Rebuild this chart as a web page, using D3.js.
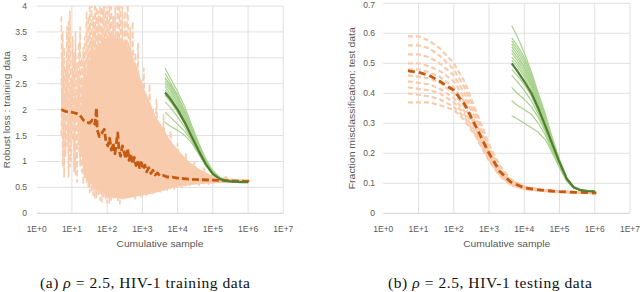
<!DOCTYPE html>
<html>
<head>
<meta charset="utf-8">
<script src="https://cdn.jsdelivr.net/npm/d3@7/dist/d3.min.js"></script>
<style>
  body { margin: 0; background: #fff; }
  text { font-family: "Liberation Sans", Arial, sans-serif; fill: #595959; }
</style>
</head>
<body>
<svg id="chart" width="640" height="292"></svg>
<script>
// ---- data ----
var xTicks = [1, 10, 100, 1e3, 1e4, 1e5, 1e6, 1e7];
var xTickLabels = ["1E+0", "1E+1", "1E+2", "1E+3", "1E+4", "1E+5", "1E+6", "1E+7"];
var yTicksTrain = [0, 0.5, 1, 1.5, 2, 2.5, 3, 3.5, 4];
var yTickLabelsTrain = ["0", "0.5", "1", "1.5", "2", "2.5", "3", "3.5", "4"];
var yTicksTest = [0, 0.1, 0.2, 0.3, 0.4, 0.5, 0.6, 0.7];
var yTickLabelsTest = ["0", "0.1", "0.2", "0.3", "0.4", "0.5", "0.6", "0.7"];

// training panel: dense core of the stochastic runs
var trainBandX  = [18, 22, 32, 50, 80, 100, 160, 250, 400, 630, 1000, 1600, 2500, 4000, 6300, 10000, 20000, 40000, 100000, 300000, 1100000];
var trainBandHi = [2.0, 2.5, 2.9, 3.2, 3.35, 3.4, 3.4, 3.35, 3.2, 2.9, 2.5, 2.15, 1.85, 1.62, 1.4, 1.23, 1.01, 0.86, 0.72, 0.66, 0.64];
var trainBandLo = [1.2, 0.7, 0.6, 0.45, 0.38, 0.3, 0.3, 0.28, 0.3, 0.32, 0.35, 0.37, 0.4, 0.44, 0.48, 0.51, 0.54, 0.56, 0.58, 0.59, 0.6];
// training panel: three of the noisy stochastic runs (fringe of the cloud)
var trainRunX = [5, 5.5, 6, 6.6, 7.2, 8, 8.8, 9.6, 10.5, 11.5, 12.6, 14, 15.5, 17, 19, 21, 23, 26, 29, 32,
                 36, 40, 45, 50, 56, 63, 71, 80, 90, 100, 115, 130, 150, 170, 200, 230, 270, 320, 380, 450,
                 530, 630, 750, 900, 1100, 1300, 1600, 2000, 2500, 3200, 4000, 5000, 6300, 8000, 10000, 13000, 17000, 22000, 30000, 40000,
                 55000, 75000, 100000, 150000, 220000, 330000, 500000, 750000, 1100000];
var trainRunA = [3.8, 0.9, 3.2, 1.1, 3.6, 0.7, 3.9, 1.0, 3.4, 0.8,
                 3.5, 0.6, 3.3, 0.9, 3.0, 0.55, 3.4, 0.6, 3.8, 0.4,
                 4.2, 0.35, 4.5, 0.3, 3.9, 0.25, 4.5, 0.3, 4.1, 0.2,
                 4.5, 0.25, 3.8, 0.3, 4.5, 0.18, 4.0, 0.25, 4.4, 0.3,
                 3.7, 0.28, 3.3, 0.32, 2.8, 0.35, 2.5, 0.38, 2.2, 0.4,
                 1.9, 0.44, 1.6, 0.47, 1.35, 0.5, 1.15, 0.52, 1.0, 0.54,
                 0.88, 0.56, 0.78, 0.57, 0.72, 0.59, 0.67, 0.6, 0.64];
var trainRunB = [1.5, 3.5, 0.7, 2.8, 1.3, 3.7, 0.9, 2.5, 1.4, 3.1,
                 0.75, 2.9, 1.2, 3.6, 0.8, 3.2, 0.7, 3.9, 0.5, 4.3,
                 0.4, 3.8, 0.3, 4.5, 0.35, 4.0, 0.22, 4.5, 0.28, 3.9,
                 0.2, 4.5, 0.3, 4.2, 0.22, 4.5, 0.26, 3.9, 0.3, 3.6,
                 0.3, 3.1, 0.33, 2.6, 0.36, 2.3, 0.4, 2.0, 0.42, 1.75,
                 0.45, 1.5, 0.48, 1.28, 0.51, 1.1, 0.53, 0.95, 0.55, 0.84,
                 0.57, 0.75, 0.58, 0.7, 0.6, 0.66, 0.61, 0.64, 0.62];
var trainRunC = [2.6, 1.6, 2.2, 1.9, 2.9, 1.2, 2.4, 1.7, 2.7, 1.3,
                 2.3, 1.8, 2.6, 1.1, 2.5, 1.5, 2.9, 1.0, 3.1, 0.8,
                 3.3, 0.7, 3.6, 0.6, 3.8, 0.5, 3.5, 0.45, 3.9, 0.4,
                 3.6, 0.38, 3.8, 0.42, 3.4, 0.35, 3.7, 0.4, 3.2, 0.45,
                 2.9, 0.42, 2.5, 0.45, 2.2, 0.47, 1.9, 0.5, 1.7, 0.52,
                 1.5, 0.54, 1.3, 0.56, 1.15, 0.57, 1.0, 0.58, 0.9, 0.59,
                 0.8, 0.6, 0.74, 0.6, 0.69, 0.61, 0.66, 0.62, 0.63];
// training panel: mean of the stochastic runs
var trainMeanX = [5, 7, 10, 13, 17, 21, 25, 32, 38, 45, 50, 52, 60, 71, 83, 93, 105, 117, 132, 148, 166, 186, 200, 214, 240, 269, 302, 339, 380, 417, 468, 525, 589, 661, 741, 832, 933, 1047, 1175, 1318, 1514, 1738, 1995, 2291, 2692, 3162, 3981, 5012, 7079, 10000, 19953, 39811, 100000, 251189, 630957, 1122018];
var trainMeanY = [2.0, 1.96, 1.95, 1.93, 1.89, 1.8, 1.76, 1.74, 1.8, 1.72, 2.03, 1.62, 1.48, 1.55, 1.62, 1.38, 1.3, 1.45, 1.22, 1.35, 1.15, 1.4, 1.55, 1.25, 1.1, 1.3, 1.18, 1.05, 1.25, 1.02, 1.15, 0.95, 1.08, 0.92, 1.02, 0.88, 0.98, 0.85, 0.93, 0.8, 0.88, 0.77, 0.83, 0.74, 0.78, 0.72, 0.73, 0.7, 0.7, 0.68, 0.66, 0.65, 0.64, 0.63, 0.62, 0.62];
// training panel: batch runs
var batchX = [4400, 6300, 10000, 16000, 25000, 40000, 63000, 100000, 160000, 250000, 400000, 630000, 1000000];
var trainBatchMean = [2.33, 2.2, 2.0, 1.75, 1.48, 1.2, 0.95, 0.76, 0.66, 0.62, 0.61, 0.6, 0.6];
var trainBatchRuns = [
  [2.80, 2.60, 2.35, 2.05, 1.70, 1.35, 1.05, 0.82, 0.69, 0.63, 0.61, 0.6, 0.6],
  [2.70, 2.52, 2.28, 1.98, 1.65, 1.32, 1.02, 0.80, 0.68, 0.63, 0.61, 0.6, 0.6],
  [2.62, 2.45, 2.22, 1.93, 1.62, 1.30, 1.00, 0.79, 0.68, 0.63, 0.61, 0.6, 0.6],
  [2.55, 2.40, 2.17, 1.88, 1.58, 1.27, 0.98, 0.78, 0.67, 0.62, 0.61, 0.6, 0.6],
  [2.50, 2.36, 2.12, 1.84, 1.55, 1.25, 0.97, 0.77, 0.67, 0.62, 0.61, 0.6, 0.6],
  [2.45, 2.30, 2.08, 1.80, 1.52, 1.22, 0.96, 0.77, 0.66, 0.62, 0.6, 0.6, 0.6],
  [2.38, 2.25, 2.03, 1.77, 1.50, 1.20, 0.95, 0.76, 0.66, 0.62, 0.6, 0.6, 0.6],
  [2.28, 2.15, 1.95, 1.72, 1.46, 1.18, 0.93, 0.75, 0.66, 0.62, 0.6, 0.6, 0.6],
  [2.15, 2.04, 1.86, 1.66, 1.42, 1.16, 0.92, 0.75, 0.66, 0.62, 0.6, 0.6, 0.6],
  [1.95, 1.85, 1.72, 1.58, 1.40, 1.15, 0.92, 0.75, 0.66, 0.62, 0.6, 0.6, 0.6],
  [1.75, 1.68, 1.60, 1.50, 1.36, 1.14, 0.92, 0.75, 0.66, 0.62, 0.6, 0.6, 0.6],
  [2.60, 2.48, 2.25, 1.95, 1.63, 1.29, 1.00, 0.79, 0.67, 0.63, 0.61, 0.6, 0.6]
];

// testing panel: stochastic runs
var testStochX = [5, 10, 20, 40, 100, 200, 400, 1000, 2000, 4000, 10000, 30000, 100000, 300000, 1100000];
var testStochMean = [0.475, 0.47, 0.46, 0.44, 0.41, 0.365, 0.295, 0.2, 0.14, 0.105, 0.085, 0.077, 0.072, 0.07, 0.068];
var testStochRuns = [
  [0.59, 0.59, 0.575, 0.55, 0.50, 0.44, 0.35, 0.23, 0.16, 0.115, 0.09, 0.08, 0.074, 0.071, 0.068],
  [0.56, 0.56, 0.55, 0.525, 0.48, 0.42, 0.34, 0.22, 0.155, 0.112, 0.088, 0.079, 0.073, 0.07, 0.068],
  [0.53, 0.53, 0.52, 0.50, 0.46, 0.40, 0.33, 0.215, 0.15, 0.11, 0.087, 0.078, 0.073, 0.07, 0.068],
  [0.50, 0.50, 0.49, 0.475, 0.44, 0.385, 0.32, 0.21, 0.145, 0.108, 0.086, 0.078, 0.072, 0.07, 0.067],
  [0.48, 0.48, 0.47, 0.455, 0.42, 0.37, 0.305, 0.205, 0.14, 0.105, 0.085, 0.077, 0.072, 0.07, 0.067],
  [0.46, 0.455, 0.45, 0.435, 0.40, 0.355, 0.295, 0.20, 0.138, 0.103, 0.084, 0.077, 0.072, 0.069, 0.067],
  [0.44, 0.435, 0.43, 0.415, 0.385, 0.34, 0.285, 0.19, 0.135, 0.10, 0.083, 0.076, 0.071, 0.069, 0.067],
  [0.42, 0.415, 0.41, 0.40, 0.37, 0.33, 0.275, 0.185, 0.13, 0.098, 0.082, 0.076, 0.071, 0.069, 0.067],
  [0.40, 0.395, 0.39, 0.38, 0.355, 0.32, 0.265, 0.18, 0.128, 0.096, 0.081, 0.075, 0.071, 0.069, 0.066],
  [0.37, 0.37, 0.37, 0.36, 0.345, 0.31, 0.26, 0.175, 0.125, 0.095, 0.08, 0.075, 0.07, 0.068, 0.066]
];
// testing panel: batch runs
var testBatchMean = [0.50, 0.475, 0.44, 0.40, 0.35, 0.29, 0.23, 0.17, 0.115, 0.087, 0.077, 0.074, 0.073];
var testBatchRuns = [
  [0.625, 0.59, 0.535, 0.47, 0.40, 0.33, 0.25, 0.18, 0.12, 0.09, 0.078, 0.075, 0.073],
  [0.585, 0.56, 0.52, 0.46, 0.39, 0.32, 0.245, 0.175, 0.118, 0.088, 0.078, 0.075, 0.073],
  [0.575, 0.55, 0.51, 0.455, 0.385, 0.315, 0.24, 0.173, 0.117, 0.088, 0.077, 0.074, 0.073],
  [0.565, 0.54, 0.50, 0.445, 0.38, 0.31, 0.238, 0.172, 0.116, 0.088, 0.077, 0.074, 0.073],
  [0.555, 0.53, 0.49, 0.44, 0.375, 0.305, 0.235, 0.17, 0.115, 0.087, 0.077, 0.074, 0.073],
  [0.545, 0.52, 0.485, 0.43, 0.37, 0.30, 0.232, 0.168, 0.114, 0.087, 0.077, 0.074, 0.073],
  [0.535, 0.51, 0.475, 0.425, 0.365, 0.30, 0.23, 0.168, 0.114, 0.087, 0.077, 0.074, 0.073],
  [0.52, 0.50, 0.465, 0.42, 0.36, 0.295, 0.228, 0.166, 0.113, 0.086, 0.077, 0.074, 0.073],
  [0.51, 0.49, 0.455, 0.41, 0.355, 0.29, 0.225, 0.165, 0.113, 0.086, 0.076, 0.074, 0.073],
  [0.48, 0.46, 0.43, 0.39, 0.34, 0.28, 0.22, 0.163, 0.112, 0.086, 0.076, 0.074, 0.073],
  [0.46, 0.44, 0.41, 0.375, 0.33, 0.275, 0.215, 0.16, 0.11, 0.085, 0.076, 0.074, 0.073],
  [0.42, 0.40, 0.38, 0.355, 0.32, 0.27, 0.212, 0.158, 0.11, 0.085, 0.076, 0.074, 0.073],
  [0.375, 0.36, 0.345, 0.33, 0.30, 0.26, 0.205, 0.155, 0.108, 0.085, 0.076, 0.074, 0.073],
  [0.325, 0.315, 0.30, 0.285, 0.27, 0.245, 0.20, 0.152, 0.107, 0.084, 0.076, 0.074, 0.073]
];

var lightOrange = "#f8cbad", darkOrange = "#c55a11";
var lightGreen = "#a9d18e", darkGreen = "#4f7f2f";

var svg = d3.select("#chart");

function make_panel(x0, x1, y0, y1, yMax, yTicks, yLabels, yTitle, titleX, titleLen, labelX) {
    // Returns [g, X, Y] for one log-x panel; gridlines and labels drawn.
    var X = d3.scaleLog().domain([1, 1e7]).range([x0, x1]),
        Y = d3.scaleLinear().domain([0, yMax]).range([y0, y1]),
        g = svg.append("g");

    g.selectAll(".hgrid").data(yTicks).enter().append("line")
        .attr("x1", x0).attr("x2", x1)
        .attr("y1", d => Y(d)).attr("y2", d => Y(d))
        .style("stroke", (d, i) => i === 0 ? "#cfcfcf" : "#e0e0e0")
        .style("stroke-width", 1);
    g.selectAll(".vgrid").data(xTicks.slice(1)).enter().append("line")
        .attr("x1", d => X(d)).attr("x2", d => X(d))
        .attr("y1", y0).attr("y2", y1)
        .style("stroke", "#e0e0e0").style("stroke-width", 1);

    g.selectAll(".ylab").data(yTicks).enter().append("text")
        .attr("x", labelX).attr("y", d => Math.max(Y(d) + 3, 8))
        .attr("text-anchor", "end").style("font-size", "8.5px")
        .text((d, i) => yLabels[i]);
    g.selectAll(".xlab").data(xTicks).enter().append("text")
        .attr("x", d => X(d)).attr("y", y0 + 19)
        .attr("text-anchor", "middle").style("font-size", "8.5px")
        .text((d, i) => xTickLabels[i]);

    g.append("text")
        .attr("transform", "translate(" + titleX + "," + ((y0 + y1) / 2) + ") rotate(-90)")
        .attr("text-anchor", "middle").style("font-size", "9.5px")
        .attr("textLength", titleLen).attr("lengthAdjust", "spacingAndGlyphs")
        .text(yTitle);
    g.append("text")
        .attr("x", (x0 + x1) / 2).attr("y", y0 + 34)
        .attr("text-anchor", "middle").style("font-size", "9.5px")
        .attr("textLength", 87).attr("lengthAdjust", "spacingAndGlyphs")
        .text("Cumulative sample");

    var clipId = "clip" + Math.round(x0);
    svg.append("clipPath").attr("id", clipId).append("rect")
        .attr("x", x0).attr("y", y1).attr("width", x1 - x0).attr("height", y0 - y1);
    var plot = svg.append("g").attr("clip-path", "url(#" + clipId + ")");
    return [plot, X, Y];
}

function draw_line(g, X, Y, xs, ys, color, width, dash) {
    var line = d3.line().x(d => X(d[0])).y(d => Y(d[1]));
    var p = g.append("path")
        .attr("d", line(xs.map((x, i) => [x, ys[i]])))
        .style("fill", "none").style("stroke", color)
        .style("stroke-width", width)
        .style("stroke-linejoin", "round");
    if (dash) p.style("stroke-dasharray", dash);
    return p;
}

// ---- panel (a) ----
var pa = make_panel(36.7, 283.3, 213.3, 6, 4, yTicksTrain, yTickLabelsTrain,
                    "Robust loss : training data", 9.5, 117, 27);
var ga = pa[0], Xa = pa[1], Ya = pa[2];

ga.append("path")
    .attr("d", d3.area()
        .x(d => Xa(d[0])).y0(d => Ya(d[1])).y1(d => Ya(d[2]))
        (trainBandX.map((x, i) => [x, trainBandLo[i], trainBandHi[i]])))
    .style("fill", lightOrange);
[trainRunA, trainRunB, trainRunC].forEach(r =>
    draw_line(ga, Xa, Ya, trainRunX, r, lightOrange, 1.6, "6,3"));
trainBatchRuns.forEach(r => draw_line(ga, Xa, Ya, batchX, r, lightGreen, 1.2));
draw_line(ga, Xa, Ya, trainMeanX, trainMeanY, darkOrange, 2.8, "7,3");
draw_line(ga, Xa, Ya, batchX, trainBatchMean, darkGreen, 2.2);

// ---- panel (b) ----
var pb = make_panel(383.3, 630, 213.3, 3.3, 0.7, yTicksTest, yTickLabelsTest,
                    "Fraction misclassification: test data", 355, 162, 375);
var gb = pb[0], Xb = pb[1], Yb = pb[2];

testStochRuns.forEach(r => draw_line(gb, Xb, Yb, testStochX, r, lightOrange, 2.2, "5,3"));
testBatchRuns.forEach(r => draw_line(gb, Xb, Yb, batchX, r, lightGreen, 1.2));
draw_line(gb, Xb, Yb, testStochX, testStochMean, darkOrange, 2.8, "7,4");
draw_line(gb, Xb, Yb, batchX, testBatchMean, darkGreen, 2.2);

// ---- captions ----
function caption(cx, len, label, rest) {
    var t = svg.append("text").attr("x", cx).attr("y", 288)
        .attr("text-anchor", "middle")
        .attr("textLength", len).attr("lengthAdjust", "spacing")
        .style("font-family", "'Liberation Serif', 'DejaVu Serif', serif")
        .style("font-size", "15.5px").style("fill", "#111");
    t.append("tspan").text(label + " ");
    t.append("tspan").style("font-style", "italic").text("\u03c1");
    t.append("tspan").text(" = " + rest);
}
caption(145, 210, "(a)", "2.5, HIV-1 training data");
caption(490, 204, "(b)", "2.5, HIV-1 testing data");
</script>
</body>
</html>
